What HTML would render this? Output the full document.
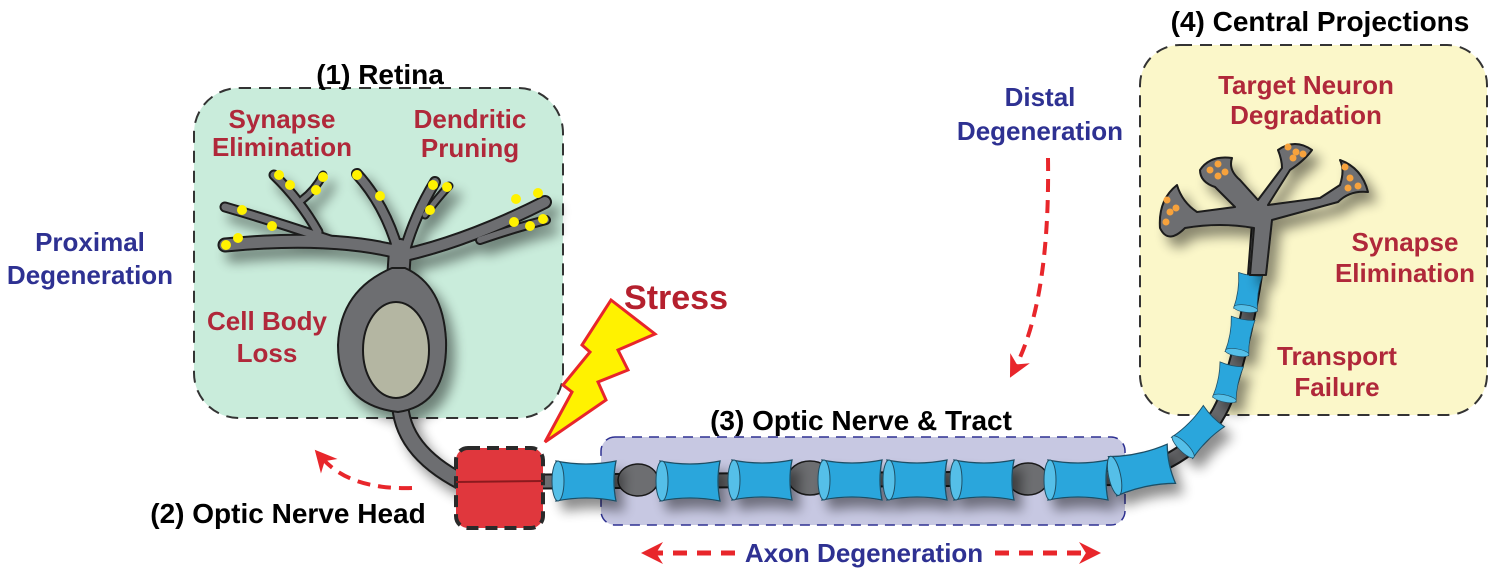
<!DOCTYPE html>
<html><head><meta charset="utf-8"><style>
html,body{margin:0;padding:0;background:#fff;}
svg{display:block;}
text{font-family:"Liberation Sans",sans-serif;font-weight:bold;}
</style></head><body>
<svg width="1500" height="571" viewBox="0 0 1500 571" xmlns="http://www.w3.org/2000/svg">
<defs>
<filter id="sh" x="-20%" y="-20%" width="140%" height="160%"><feGaussianBlur in="SourceAlpha" stdDeviation="6"/><feOffset dx="8" dy="10"/><feComponentTransfer><feFuncA type="linear" slope="0.45"/></feComponentTransfer><feMerge><feMergeNode/><feMergeNode in="SourceGraphic"/></feMerge></filter>
<marker id="ah" markerWidth="22" markerHeight="22" refX="4" refY="4" orient="auto" markerUnits="userSpaceOnUse" viewBox="0 0 8 8"><path d="M0,0 L8,4 L0,8 L2.5,4z" fill="#e8262b"/></marker>
<g id="seg"><path d="M-30,-20 Q0,-14 30,-20 Q26,0 30,20 Q0,14 -30,20 Q-26,0 -30,-20Z" fill="#2aa6dc" stroke="#1f4f66" stroke-width="1.3"/><ellipse cx="-28" cy="0" rx="6" ry="20" fill="#55bfe8" stroke="#1f4f66" stroke-width="1"/></g>
</defs>

<rect x="194" y="88" width="369" height="330" rx="45" fill="#c9ecdb" stroke="#333" stroke-width="2" stroke-dasharray="12,8"/>
<rect x="601" y="437" width="524" height="88" rx="14" fill="#c7c8e2" stroke="#2e3192" stroke-width="1.5" stroke-dasharray="10,7"/>
<rect x="1140" y="45" width="347" height="370" rx="40" fill="#fbf7c9" stroke="#333" stroke-width="2" stroke-dasharray="12,8"/>

<!-- Retina neuron -->
<g filter="url(#sh)">
<g fill="none" stroke="#1a1a1a" stroke-linecap="round" stroke-linejoin="round">
<path d="M398,252 Q330,235 225,245" stroke-width="15"/>
<path d="M330,240 Q270,220 225,207" stroke-width="11"/>
<path d="M318,232 Q300,200 274,175" stroke-width="11"/>
<path d="M302,200 Q315,190 323,175" stroke-width="9"/>
<path d="M398,250 Q385,205 357,174" stroke-width="12"/>
<path d="M405,250 Q415,215 435,182" stroke-width="12"/>
<path d="M425,215 Q440,195 449,186" stroke-width="9"/>
<path d="M405,255 Q470,240 545,202" stroke-width="14"/>
<path d="M480,240 Q515,228 546,220" stroke-width="10"/>
<path d="M400,250 L398,280" stroke-width="24"/>
<path d="M400,400 Q400,450 462,482" stroke-width="18"/>
</g>
<g fill="none" stroke="#6d6e71" stroke-linecap="round" stroke-linejoin="round">
<path d="M398,252 Q330,235 225,245" stroke-width="11"/>
<path d="M330,240 Q270,220 225,207" stroke-width="7"/>
<path d="M318,232 Q300,200 274,175" stroke-width="7"/>
<path d="M302,200 Q315,190 323,175" stroke-width="5"/>
<path d="M398,250 Q385,205 357,174" stroke-width="8"/>
<path d="M405,250 Q415,215 435,182" stroke-width="8"/>
<path d="M425,215 Q440,195 449,186" stroke-width="5"/>
<path d="M405,255 Q470,240 545,202" stroke-width="10"/>
<path d="M480,240 Q515,228 546,220" stroke-width="6"/>
<path d="M400,250 L398,280" stroke-width="20"/>
<path d="M400,400 Q400,450 462,482" stroke-width="14"/>
</g>
<path d="M392,268 Q340,290 338,345 Q338,405 398,412 Q448,405 446,340 Q443,285 405,268 Z" fill="#6d6e71" stroke="#1a1a1a" stroke-width="2"/>
</g>
<ellipse cx="396" cy="350" rx="33" ry="48" fill="#b4b6a2" stroke="#1a1a1a" stroke-width="2"/>
<g fill="#fff200">
<circle cx="226" cy="245" r="5"/><circle cx="238" cy="238" r="5"/><circle cx="242" cy="210" r="5"/><circle cx="272" cy="226" r="5"/>
<circle cx="279" cy="175" r="5"/><circle cx="290" cy="185" r="5"/><circle cx="323" cy="177" r="5"/><circle cx="316" cy="190" r="5"/>
<circle cx="357" cy="175" r="5"/><circle cx="380" cy="196" r="5"/><circle cx="433" cy="185" r="5"/><circle cx="447" cy="187" r="5"/><circle cx="430" cy="210" r="5"/>
<circle cx="516" cy="199" r="5"/><circle cx="538" cy="193" r="5"/><circle cx="514" cy="222" r="5"/><circle cx="530" cy="226" r="5"/><circle cx="543" cy="219" r="5"/>
</g>

<!-- Axon -->
<path d="M460,482 L1120,478 Q1200,460 1225,400 Q1245,340 1255,275 L1260,210" fill="none" stroke="#1a1a1a" stroke-width="16"/>
<path d="M460,482 L1120,478 Q1200,460 1225,400 Q1245,340 1255,275 L1260,210" fill="none" stroke="#6d6e71" stroke-width="12"/>
<g fill="#6d6e71" stroke="#1a1a1a" stroke-width="1.5">
<ellipse cx="638" cy="480" rx="20" ry="16"/><ellipse cx="810" cy="478" rx="22" ry="17"/><ellipse cx="1028" cy="479" rx="20" ry="16"/>
</g>
<g filter="url(#sh)">
<use href="#seg" transform="translate(586,481)"/>
<use href="#seg" transform="translate(690,481)"/>
<use href="#seg" transform="translate(762,480)"/>
<use href="#seg" transform="translate(852,480)"/>
<use href="#seg" transform="translate(917,480)"/>
<use href="#seg" transform="translate(984,480)"/>
<use href="#seg" transform="translate(1078,480)"/>
<use href="#seg" transform="translate(1142,470) rotate(-12)"/>
<use href="#seg" transform="translate(1198,432) rotate(-45) scale(0.75)"/>
<use href="#seg" transform="translate(1228,382) rotate(-78) scale(0.6)"/>
<use href="#seg" transform="translate(1240,336) rotate(-80) scale(0.6)"/>
<use href="#seg" transform="translate(1248,292) rotate(-82) scale(0.6)"/>
</g>

<!-- Central neuron -->
<g filter="url(#sh)" fill="#6d6e71" stroke="#1a1a1a" stroke-width="2" stroke-linejoin="round">
<path d="M1250,275 L1254,228 Q1220,222 1185,228 Q1168,245 1160,228 Q1158,200 1177,185 Q1182,202 1197,212 L1235,207 L1215,187 Q1200,182 1200,170 Q1210,155 1232,158 Q1228,170 1240,180 L1258,200 L1282,168 Q1282,160 1278,150 Q1295,138 1312,150 Q1305,160 1290,170 L1268,205 L1320,198 L1340,185 Q1345,170 1340,160 Q1362,168 1368,192 Q1350,190 1338,202 L1272,220 L1266,275 Z"/>
</g>
<g fill="#f7a23c">
<circle cx="1167" cy="200" r="3.5"/><circle cx="1170" cy="212" r="3.5"/><circle cx="1166" cy="222" r="3.5"/><circle cx="1176" cy="208" r="3.5"/>
<circle cx="1210" cy="170" r="3.5"/><circle cx="1218" cy="164" r="3.5"/><circle cx="1225" cy="172" r="3.5"/><circle cx="1218" cy="176" r="3.5"/>
<circle cx="1288" cy="147" r="3.5"/><circle cx="1296" cy="152" r="3.5"/><circle cx="1303" cy="154" r="3.5"/><circle cx="1293" cy="158" r="3.5"/>
<circle cx="1345" cy="167" r="3.5"/><circle cx="1350" cy="178" r="3.5"/><circle cx="1358" cy="186" r="3.5"/><circle cx="1348" cy="188" r="3.5"/>
</g>

<rect x="456" y="448" width="87" height="80" rx="12" fill="#e0373d" stroke="#2a2a2a" stroke-width="4" stroke-dasharray="12,7"/>
<line x1="456" y1="482" x2="543" y2="481" stroke="#8b1a1e" stroke-width="2"/>

<path d="M611,300 L655,334 L618,350 L628,370 L598,382 L606,400 L545,442 L572,392 L563,385 L590,352 L582,345 Z" fill="#fff200" stroke="#e8262b" stroke-width="3" stroke-linejoin="miter"/>

<path d="M412,488 Q350,490 322,458" fill="none" stroke="#e8262b" stroke-width="4" stroke-dasharray="13,8" marker-end="url(#ah)"/>
<path d="M1048,158 Q1050,300 1015,368" fill="none" stroke="#e8262b" stroke-width="4" stroke-dasharray="13,8" marker-end="url(#ah)"/>
<path d="M735,553 L652,553" stroke="#e8262b" stroke-width="5" stroke-dasharray="14,10" marker-end="url(#ah)"/>
<path d="M995,553 L1090,553" stroke="#e8262b" stroke-width="5" stroke-dasharray="14,10" marker-end="url(#ah)"/>

<g fill="#000" font-size="28">
<text x="380" y="84" text-anchor="middle">(1) Retina</text>
<text x="288" y="523" text-anchor="middle">(2) Optic Nerve Head</text>
<text x="861" y="430" text-anchor="middle">(3) Optic Nerve &amp; Tract</text>
<text x="1320" y="31" text-anchor="middle">(4) Central Projections</text>
</g>
<g fill="#b0283a" font-size="26" text-anchor="middle">
<text x="282" y="128">Synapse</text><text x="282" y="156">Elimination</text>
<text x="470" y="128">Dendritic</text><text x="470" y="157">Pruning</text>
<text x="267" y="330">Cell Body</text><text x="267" y="362">Loss</text>
<text x="1306" y="94">Target Neuron</text><text x="1306" y="124">Degradation</text>
<text x="1405" y="251">Synapse</text><text x="1405" y="282">Elimination</text>
<text x="1337" y="365">Transport</text><text x="1337" y="396">Failure</text>
<text x="676" y="309" font-size="34" fill="#b5202e">Stress</text>
</g>
<g fill="#2e3192" font-size="26" text-anchor="middle">
<text x="90" y="251">Proximal</text><text x="90" y="284">Degeneration</text>
<text x="1040" y="106">Distal</text><text x="1040" y="140">Degeneration</text>
<text x="864" y="562">Axon Degeneration</text>
</g>
</svg>
</body></html>
